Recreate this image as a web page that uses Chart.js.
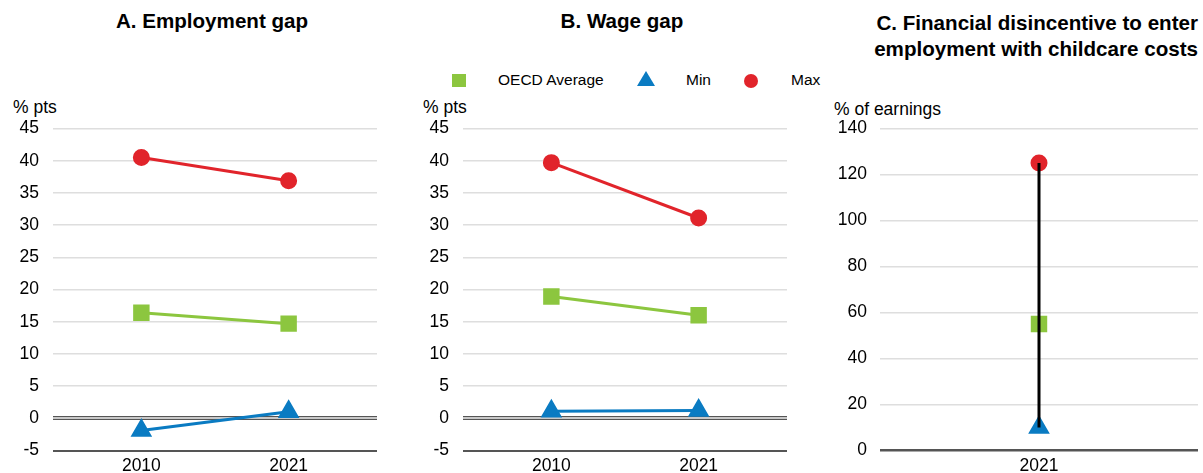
<!DOCTYPE html>
<html>
<head>
<meta charset="utf-8">
<script src="https://cdn.jsdelivr.net/npm/chart.js@4/dist/chart.umd.min.js"></script>
<style>
  body { margin: 0; background: #fff; font-family: "Liberation Sans", Arial, sans-serif; }
  #wrap { position: relative; width: 1203px; height: 473px; overflow: hidden; }
  .title { position: absolute; font-weight: bold; font-size: 20.6px; color: #000; white-space: nowrap; line-height: 26px; }
  .unit { position: absolute; font-size: 17.5px; color: #000; white-space: nowrap; }
  .box { position: absolute; top: 100px; height: 373px; }
  .leg { position: absolute; font-size: 15.5px; color: #000; white-space: nowrap; }
</style>
</head>
<body>
<div id="wrap">
  <div class="title" style="left:0;width:424px;text-align:center;top:8px;">A. Employment gap</div>
  <div class="title" style="left:412px;width:420px;text-align:center;top:8px;">B. Wage gap</div>
  <div class="title" style="right:5px;text-align:right;top:10px;">C. Financial disincentive to enter<br>employment with childcare costs</div>

  <div id="legend"></div>

  <div class="unit" style="left:13px;top:97px;">% pts</div>
  <div class="unit" style="left:423px;top:97px;">% pts</div>
  <div class="unit" style="left:834px;top:99px;">% of earnings</div>

  <div class="box" style="left:0;width:380px;"><canvas id="chartA"></canvas></div>
  <div class="box" style="left:410px;width:380px;"><canvas id="chartB"></canvas></div>
  <div class="box" style="left:820px;width:383px;"><canvas id="chartC"></canvas></div>
</div>
<script>
// data
const years = ['2010', '2021'];
const empAvg = [16.4, 14.7];
const empMin = [-1.9, 1.0];
const empMax = [40.5, 36.9];
const wageAvg = [18.9, 16.0];
const wageMin = [1.1, 1.2];
const wageMax = [39.7, 31.1];
const careYears = ['2021'];
const careAvg = [55];
const careMin = [10];
const careMax = [125];
const gapTicks = [-5, 0, 5, 10, 15, 20, 25, 30, 35, 40, 45];
const careTicks = [0, 20, 40, 60, 80, 100, 120, 140];

const seriesNames = ['OECD Average', 'Min', 'Max'];
const green = '#8cc63f';
const blue = '#0a7bc2';
const red = '#e1242b';

// legend (html)
const legend = document.getElementById('legend');
legend.innerHTML =
  '<div style="position:absolute;left:452px;top:74px;width:14px;height:13px;background:' + green + '"></div>' +
  '<div class="leg" style="left:498px;top:71px;">' + seriesNames[0] + '</div>' +
  '<div style="position:absolute;left:637px;top:71px;width:0;height:0;border-left:9px solid transparent;border-right:9px solid transparent;border-bottom:15px solid ' + blue + '"></div>' +
  '<div class="leg" style="left:686px;top:71px;">' + seriesNames[1] + '</div>' +
  '<div style="position:absolute;left:744px;top:74px;width:14px;height:14px;border-radius:50%;background:' + red + '"></div>' +
  '<div class="leg" style="left:791px;top:71px;">' + seriesNames[2] + '</div>';

Chart.defaults.font.family = '"Liberation Sans", Arial, sans-serif';
Chart.defaults.font.size = 17.5;
Chart.defaults.color = '#000';

const pts = (vals) => vals.map((v, i) => ({ x: i, y: v }));

// double zero line like the original
const zeroLine = {
  id: 'zeroLine',
  beforeDatasetsDraw(chart) {
    const y = chart.scales.y;
    if (y.min >= 0) return;
    const py = Math.round(y.getPixelForValue(0));
    const ctx = chart.ctx;
    ctx.save();
    ctx.strokeStyle = '#555';
    ctx.lineWidth = 1;
    ctx.beginPath();
    ctx.moveTo(chart.chartArea.left, py - 1.5);
    ctx.lineTo(chart.chartArea.right, py - 1.5);
    ctx.moveTo(chart.chartArea.left, py + 1.5);
    ctx.lineTo(chart.chartArea.right, py + 1.5);
    ctx.stroke();
    ctx.restore();
  }
};

const noPad = s => { s.paddingLeft = 0; s.paddingRight = 0; s.paddingTop = 0; s.paddingBottom = 0; };

function makeChart(id, labels, avg, mn, mx, ticks, opts) {
  const datasets = [];
  if (opts.range) {
    datasets.push({
      data: [{ x: 0, y: mn[0] }, { x: 0, y: mx[0] }],
      borderColor: '#000', borderWidth: 3, pointRadius: 0, order: 0
    });
  }
  const show = !opts.range;
  datasets.push(
    { label: seriesNames[2], data: pts(mx), borderColor: red, backgroundColor: red, borderWidth: 3,
      pointStyle: 'circle', pointRadius: 7, showLine: show, order: 1 },
    { label: seriesNames[0], data: pts(avg), borderColor: green, backgroundColor: green, borderWidth: 3,
      pointStyle: 'rect', pointRadius: 9.5, showLine: show, order: 1 },
    { label: seriesNames[1], data: pts(mn), borderColor: blue, backgroundColor: blue, borderWidth: 3,
      pointStyle: 'triangle', pointRadius: 9.5, showLine: show, order: 1 }
  );
  const yMin = ticks[0];
  return new Chart(document.getElementById(id), {
    type: 'line',
    data: { datasets },
    options: {
      responsive: true,
      maintainAspectRatio: false,
      animation: false,
      layout: { autoPadding: false, padding: { top: 28.5, right: opts.right, left: 0, bottom: 0 } },
      plugins: { legend: { display: false }, tooltip: { enabled: false } },
      scales: {
        x: {
          type: 'linear',
          min: opts.xmin, max: opts.xmax,
          afterBuildTicks: s => { s.ticks = labels.map((l, i) => ({ value: i })); },
          afterFit: s => { s.height = 22.5; noPad(s); },
          ticks: { callback: v => labels[v], padding: -3, maxRotation: 0 },
          grid: { display: false },
          border: { display: false }
        },
        y: {
          min: yMin, max: ticks[ticks.length - 1],
          afterBuildTicks: s => { s.ticks = ticks.map(v => ({ value: v })); },
          afterFit: s => { s.width = opts.yWidth; noPad(s); },
          ticks: { padding: opts.tickPad },
          grid: {
            drawTicks: false,
            color: c => c.tick.value === 0 ? (yMin < 0 ? '#c8c8c8' : '#555') : (c.tick.value === yMin ? '#555' : '#dedede'),
            lineWidth: c => c.tick.value === 0 ? (yMin < 0 ? 3 : 2.5) : (c.tick.value === yMin ? 2 : 1.5)
          },
          border: { display: false }
        }
      }
    },
    plugins: [zeroLine]
  });
}

makeChart('chartA', years, empAvg, empMin, empMax, gapTicks,
  { xmin: -0.6, xmax: 1.6, yWidth: 53, tickPad: 14, right: 3 });
makeChart('chartB', years, wageAvg, wageMin, wageMax, gapTicks,
  { xmin: -0.6, xmax: 1.6, yWidth: 53, tickPad: 14, right: 3 });
makeChart('chartC', careYears, careAvg, careMin, careMax, careTicks,
  { xmin: -1, xmax: 1, yWidth: 60, tickPad: 13, right: 5, range: true });
</script>
</body>
</html>
